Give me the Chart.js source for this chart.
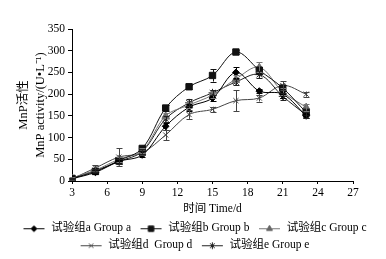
<!DOCTYPE html>
<html>
<head>
<meta charset="utf-8">
<script src="https://cdn.jsdelivr.net/npm/chart.js@4/dist/chart.umd.min.js"></script>
<style>
html,body{margin:0;padding:0;background:#fff;}
#wrap{width:386px;height:259px;position:relative;}
</style>
</head>
<body>
<div id="wrap"><canvas id="c" width="386" height="259"></canvas></div>
<script>
// ---- data ----
const days = [3, 5, 7, 9, 11, 13, 15, 17, 19, 21, 23];
const groupA = [5, 20, 45, 60, 126, 170, 191, 250, 207, 200, 150];
const groupB = [6, 22, 47, 75, 168, 217, 243, 297, 255, 214, 158];
const groupC = [7, 25, 50, 70, 150, 175, 198, 235, 262, 205, 170];
const groupD = [5, 30, 55, 65, 106, 153, 165, 185, 191, 220, 200];
const groupE = [6, 24, 45, 68, 143, 180, 203, 228, 245, 195, 152];
const errA = [2, 3, 5, 5, 8, 8, 6, 12, 5, 8, 5];
const errB = [2, 3, 5, 6, 6, 5, 14, 5, 8, 6, 6];
const errC = [2, 3, 6, 5, 6, 6, 6, 8, 12, 8, 8];
const errD = [2, 6, 20, 6, 12, 10, 6, 24, 8, 10, 6];
const errE = [2, 3, 6, 5, 6, 8, 6, 8, 8, 8, 6];
const seriesNames = ['试验组a Group a', '试验组b Group b', '试验组c Group c', '试验组d  Group d', '试验组e Group e'];
const xTicks = [3, 6, 9, 12, 15, 18, 21, 24, 27];
const yTicks = [0, 50, 100, 150, 200, 250, 300, 350];
const xTitle = '时间 Time/d';
const yTitle = ['MnP活性', 'MnP activity/(U•L⁻¹)'];

const FONT = "'Liberation Serif', 'Noto Sans CJK SC', serif";

const styles = [
  {color: '#000', pointStyle: 'rectRot', radius: 3.4, fill: '#000'},
  {color: '#111', pointStyle: 'rect', radius: 4.5, fill: '#111'},
  {color: '#777', pointStyle: 'triangle', radius: 4, fill: '#666'},
  {color: '#444', pointStyle: 'crossRot', radius: 3.6, fill: '#444'},
  {color: '#222', pointStyle: 'star', radius: 4, fill: '#222'}
];
const allData = [groupA, groupB, groupC, groupD, groupE];
const allErr = [errA, errB, errC, errD, errE];

function makeIcon(st) {
  const cv = document.createElement('canvas');
  cv.width = 26; cv.height = 10;
  const ctx = cv.getContext('2d');
  ctx.strokeStyle = st.color; ctx.lineWidth = 1;
  ctx.beginPath(); ctx.moveTo(4, 5.5); ctx.lineTo(25, 5.5); ctx.stroke();
  ctx.fillStyle = st.fill; ctx.strokeStyle = st.fill;
  Chart.helpers.drawPoint(ctx, {pointStyle: st.pointStyle, radius: st.radius * 0.85, rotation: 0, borderWidth: 1}, 14.5, 5.5);
  return cv;
}

const datasets = allData.map((d, i) => ({
  label: seriesNames[i],
  data: days.map((x, j) => ({x: x, y: d[j]})),
  borderColor: styles[i].color,
  backgroundColor: styles[i].fill,
  pointBorderColor: styles[i].fill,
  pointBackgroundColor: styles[i].fill,
  pointStyle: styles[i].pointStyle,
  pointRadius: styles[i].radius,
  pointBorderWidth: 1,
  borderWidth: 1,
  tension: 0.35,
  errors: allErr[i]
}));

const errorBars = {
  id: 'errorBars',
  afterDatasetsDraw(chart) {
    const ctx = chart.ctx;
    const ys = chart.scales.y, xs = chart.scales.x;
    ctx.save();
    chart.data.datasets.forEach((ds, i) => {
      ctx.strokeStyle = ds.borderColor;
      ctx.lineWidth = 1;
      ds.data.forEach((p, j) => {
        const e = ds.errors[j];
        const px = Math.round(xs.getPixelForValue(p.x)) + 0.5;
        const y1 = ys.getPixelForValue(p.y - e), y2 = ys.getPixelForValue(p.y + e);
        ctx.beginPath();
        ctx.moveTo(px, y1); ctx.lineTo(px, y2);
        ctx.moveTo(px - 3, Math.round(y1) + 0.5); ctx.lineTo(px + 3, Math.round(y1) + 0.5);
        ctx.moveTo(px - 3, Math.round(y2) + 0.5); ctx.lineTo(px + 3, Math.round(y2) + 0.5);
        ctx.stroke();
      });
    });
    ctx.restore();
  }
};

new Chart(document.getElementById('c'), {
  type: 'line',
  data: {datasets: datasets},
  plugins: [errorBars],
  options: {
    responsive: false,
    animation: false,
    devicePixelRatio: 1,
    layout: {padding: {left: 0, right: 0, top: 29, bottom: -2}},
    plugins: {
      tooltip: {enabled: false},
      legend: {
        position: 'bottom',
        labels: {
          usePointStyle: true,
          pointStyleWidth: 26,
          padding: 5.5,
          color: '#000',
          font: {family: FONT, size: 11.5},
          generateLabels(chart) {
            return chart.data.datasets.map((ds, i) => ({
              text: ds.label,
              pointStyle: makeIcon(styles[i]),
              fillStyle: styles[i].fill,
              strokeStyle: styles[i].color,
              lineWidth: 0,
              fontColor: '#000',
              datasetIndex: i,
              hidden: false
            }));
          }
        }
      }
    },
    scales: {
      x: {
        type: 'linear',
        min: 3, max: 27,
        afterBuildTicks(s) { s.ticks = xTicks.map(v => ({value: v})); },
        afterFit(s) { s.height = 36; },
        grid: {display: true, drawOnChartArea: false, drawTicks: true, tickLength: 3, color: '#000'},
        border: {color: '#000', width: 1},
        ticks: {color: '#000', font: {family: FONT, size: 11.5}, padding: 2, maxRotation: 0},
        title: {display: true, text: xTitle, color: '#000', font: {family: FONT, size: 11.5}, padding: {top: 0, bottom: 1}}
      },
      y: {
        min: 0, max: 350,
        afterBuildTicks(s) { s.ticks = yTicks.map(v => ({value: v})); },
        afterFit(s) { s.width = 72; },
        grid: {display: true, drawOnChartArea: false, drawTicks: true, tickLength: 4, color: '#000'},
        border: {color: '#000', width: 1},
        ticks: {color: '#000', font: {family: FONT, size: 11.5}, padding: 3},
        title: {display: true, text: yTitle, color: '#000', font: {family: FONT, size: 12.5, lineHeight: 1.3}, padding: {top: 16, bottom: 0}}
      },
      yRight: {
        position: 'right',
        display: true,
        min: 0, max: 350,
        afterFit(s) { s.width = 33; },
        grid: {display: false},
        border: {display: false},
        ticks: {display: false}
      }
    }
  }
});
</script>
</body>
</html>
